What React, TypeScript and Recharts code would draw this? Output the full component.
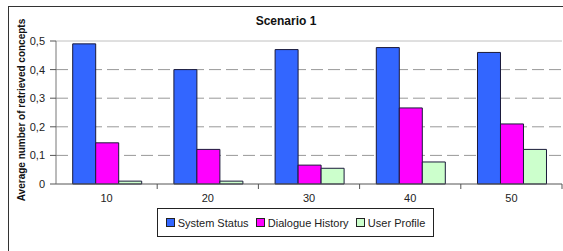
import React from "react";
import { BarChart, Bar, XAxis, YAxis, CartesianGrid, ReferenceLine } from "recharts";

const categories = ["10", "20", "30", "40", "50"];
const systemStatus = [0.49, 0.4, 0.47, 0.477, 0.46];
const dialogueHistory = [0.144, 0.121, 0.066, 0.266, 0.21];
const userProfile = [0.01, 0.01, 0.055, 0.077, 0.121];
const yTicks = [0, 0.1, 0.2, 0.3, 0.4, 0.5];

const series = [
  { key: "system", name: "System Status", color: "#3366ff" },
  { key: "dialogue", name: "Dialogue History", color: "#ff00ff" },
  { key: "user", name: "User Profile", color: "#ccffcc" },
];

const data = categories.map((c, i) => ({
  cat: c,
  system: systemStatus[i],
  dialogue: dialogueHistory[i],
  user: userProfile[i],
}));

const FONT = "'Liberation Sans', Arial, sans-serif";
const BAND = 506 / categories.length;

// label under the category, tick mark on the category boundary (Excel style)
const XTick = (props: any) => {
  const { x, y, payload } = props;
  return (
    <g>
      <line x1={x + BAND / 2} x2={x + BAND / 2} y1={y - 8} y2={y - 3} stroke="#555" />
      <text x={x} y={y + 10} textAnchor="middle" fontSize={11} fill="#222" fontFamily={FONT}>
        {payload.value}
      </text>
    </g>
  );
};

const LegendBox = () => (
  <div
    style={{
      position: "absolute",
      left: 157,
      top: 208,
      width: 277,
      height: 29,
      display: "flex",
      alignItems: "center",
      justifyContent: "space-around",
      border: "1px solid #222",
      fontFamily: FONT,
      fontSize: 11,
      color: "#222",
      padding: "0 4px",
      boxSizing: "border-box",
    }}
  >
    {series.map((s) => (
      <span key={s.key} style={{ display: "flex", alignItems: "center" }}>
        <span
          style={{
            display: "inline-block",
            width: 7,
            height: 7,
            background: s.color,
            border: "1px solid #222",
            marginRight: 3,
          }}
        />
        {s.name}
      </span>
    ))}
  </div>
);

export default function App() {
  return (
    <div
      style={{
        position: "absolute",
        left: 0,
        top: 0,
        width: 563,
        height: 251,
        overflow: "hidden",
        background: "#fff",
      }}
    >
      <div
        style={{
          position: "absolute",
          left: 8,
          top: 6,
          width: 620,
          height: 300,
          border: "1px solid #333",
        }}
      />
      <div
        style={{
          position: "absolute",
          left: 226,
          top: 14,
          width: 120,
          textAlign: "center",
          fontFamily: FONT,
          fontWeight: "bold",
          fontSize: 12,
          color: "#111",
        }}
      >
        Scenario 1
      </div>
      <div
        style={{
          position: "absolute",
          left: 22 - 100,
          top: 110 - 7,
          width: 200,
          height: 14,
          lineHeight: "14px",
          transform: "rotate(-90deg)",
          textAlign: "center",
          fontFamily: FONT,
          fontWeight: "bold",
          fontSize: 10,
          color: "#111",
          whiteSpace: "nowrap",
        }}
      >
        Average number of retrieved concepts
      </div>
      <div style={{ position: "absolute", left: 0, top: 0 }}>
        <BarChart
          width={563}
          height={251}
          data={data}
          margin={{ top: 41, right: 1, bottom: 37, left: 26 }}
          barGap={0}
          barCategoryGap="16.5%"
        >
          <CartesianGrid
            vertical={false}
            horizontalValues={yTicks.slice(1, -1)}
            stroke="#999"
            strokeDasharray="12 5"
          />
          <ReferenceLine y={0.5} stroke="#c0c0c0" />
          <XAxis
            dataKey="cat"
            tick={<XTick />}
            tickLine={false}
            axisLine={{ stroke: "#555" }}
            interval={0}
            height={30}
          />
          <YAxis
            width={30}
            domain={[0, 0.5]}
            ticks={yTicks}
            interval={0}
            tickFormatter={(v: number) => String(v).replace(".", ",")}
            tick={{ fontSize: 11, fill: "#222", fontFamily: FONT }}
            tickLine={{ stroke: "#555" }}
            tickSize={6}
            tickMargin={5}
            axisLine={{ stroke: "#777" }}
          />
          <YAxis
            yAxisId="right"
            orientation="right"
            width={0}
            tick={false}
            tickLine={false}
            axisLine={{ stroke: "#c0c0c0" }}
          />
          {series.map((s) => (
            <Bar
              key={s.key}
              dataKey={s.key}
              name={s.name}
              fill={s.color}
              stroke="#1a1a3a"
              strokeWidth={1}
              isAnimationActive={false}
            />
          ))}
        </BarChart>
      </div>
      <LegendBox />
    </div>
  );
}
